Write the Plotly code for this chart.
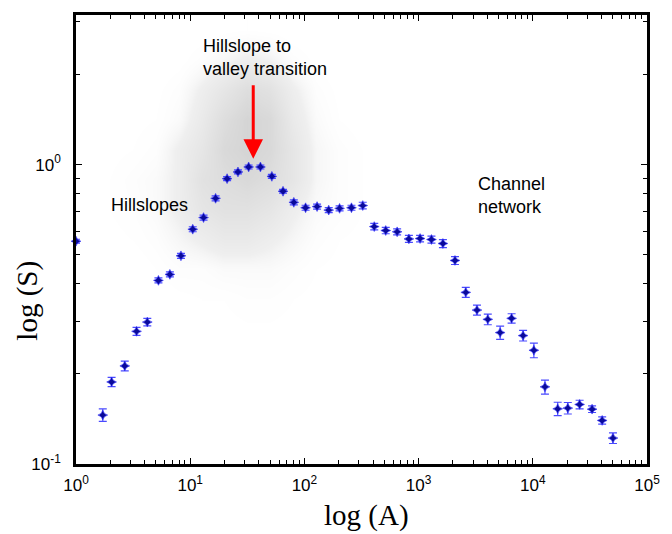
import plotly.graph_objects as go

# ---------------- data ----------------
area = [1.0, 1.716, 2.05, 2.673, 3.39, 4.21, 5.27, 6.64, 8.30, 10.53, 13.09, 16.69,
        21.04, 26.2, 32.5, 41.2, 51.9, 65.0, 80.8, 102.4, 129.1, 163.3, 203.3, 258.3,
        324.3, 409, 515.4, 648.6, 822.4, 1030, 1296, 1633, 2083, 2589, 3245, 4035,
        5176, 6524, 8222, 10220, 12780, 16520, 20260, 25700, 33040, 40500, 50350]
slope = [0.555, 0.1457, 0.188, 0.2127, 0.2775, 0.298, 0.4106, 0.430, 0.496, 0.6086,
         0.6657, 0.772, 0.898, 0.9455, 0.9825, 0.9825, 0.914, 0.815, 0.7486, 0.718,
         0.7244, 0.705, 0.7145, 0.718, 0.7303, 0.621, 0.6026, 0.5966, 0.565, 0.5666,
         0.5623, 0.5453, 0.4786, 0.3745, 0.3268, 0.3043, 0.2748, 0.3066, 0.2685,
         0.2399, 0.1810, 0.1529, 0.1537, 0.1581, 0.1525, 0.1398, 0.1221]
slope_err = [0.0085, 0.0070, 0.0068, 0.0079, 0.0085, 0.0085, 0.0079, 0.0083, 0.0095,
             0.0117, 0.0128, 0.0148, 0.0138, 0.0145, 0.0151, 0.0151, 0.0140, 0.0125,
             0.0144, 0.0138, 0.0139, 0.0135, 0.0137, 0.0138, 0.0185, 0.0157, 0.0148,
             0.0137, 0.0152, 0.0143, 0.0151, 0.0167, 0.0147, 0.0144, 0.0125, 0.0124,
             0.0141, 0.0111, 0.0109, 0.0135, 0.0097, 0.0079, 0.0068, 0.0052, 0.0039,
             0.0040, 0.0050]

# density of the grey point cloud (log10 A columns, log10 S rows)
cloud_logA = [0.1, 0.3, 0.5, 0.7, 0.9, 1.1, 1.3, 1.5, 1.7, 1.9, 2.1, 2.3, 2.5, 2.7, 2.9,
              3.1, 3.3, 3.5, 3.7, 3.9, 4.1, 4.3, 4.5, 4.7, 4.9]
cloud_logS = [-0.95, -0.85, -0.75, -0.65, -0.55, -0.45, -0.35, -0.25, -0.15, -0.05,
              0.05, 0.15, 0.25, 0.35, 0.45]
cloud_density = [
    [0, 0, 0, 0, 0, 0, 0, 0, 0, 0, 0, 0, 0, 0, 0, 0, 0, 0, 0, 0, 0, 0, 0, 0, 0],
    [0, 0, 0, 0, 0, 0, 0, 0, 0, 0, 0, 0, 0, 0, 0, 0, 0, 0, 0, 0, 0, 0, 0, 0, 0],
    [0, 0, 0, 0, 0, 0, 0.2, 0.2, 0.2, 0, 0, 0, 0, 0, 0, 0, 0, 0, 0, 0, 0, 0, 0, 0, 0],
    [0, 0, 0, 0, 0, 0.2, 0.3, 0.3, 0.3, 0.2, 0, 0, 0, 0, 0, 0, 0, 0, 0, 0, 0, 0, 0, 0, 0],
    [0, 0, 0, 0, 0.2, 0.3, 0.3, 0.4, 0.4, 0.3, 0.2, 0, 0, 0, 0, 0, 0, 0, 0, 0, 0, 0, 0, 0, 0],
    [0, 0, 0, 0, 0.3, 0.5, 0.5, 0.8, 0.8, 0.5, 0.3, 0.2, 0, 0, 0, 0, 0, 0, 0, 0, 0, 0, 0, 0, 0],
    [0, 0, 0, 0.5, 1, 1, 1.5, 1.5, 1.5, 1, 0.5, 0.3, 0.2, 0, 0, 0, 0, 0, 0, 0, 0, 0, 0, 0, 0],
    [0, 0.3, 0.5, 1, 2, 3, 4, 4, 3, 2, 1, 0.5, 0.3, 0.2, 0, 0, 0, 0, 0, 0, 0, 0, 0, 0, 0],
    [0.3, 0.5, 0.8, 1.5, 3, 5, 6, 6, 5, 3, 1.5, 1, 0.5, 0.3, 0.2, 0, 0, 0, 0, 0, 0, 0, 0, 0, 0],
    [0.3, 0.5, 1, 1.5, 3, 6, 7, 8, 7, 5, 2, 1, 0.5, 0.3, 0.2, 0, 0, 0, 0, 0, 0, 0, 0, 0, 0],
    [0, 0.3, 0.5, 1, 3, 5, 8, 9, 8, 5, 2, 1, 0.5, 0.3, 0, 0, 0, 0, 0, 0, 0, 0, 0, 0, 0],
    [0, 0, 0.3, 0.5, 1.5, 4, 7, 9, 8, 4, 1.5, 0.5, 0.2, 0, 0, 0, 0, 0, 0, 0, 0, 0, 0, 0, 0],
    [0, 0, 0, 0.3, 1, 3, 5, 7, 6, 3, 1, 0.3, 0, 0, 0, 0, 0, 0, 0, 0, 0, 0, 0, 0, 0],
    [0, 0, 0, 0, 0.2, 1, 2, 3, 2.5, 1, 0.3, 0, 0, 0, 0, 0, 0, 0, 0, 0, 0, 0, 0, 0, 0],
    [0, 0, 0, 0, 0, 0, 0.3, 0.5, 0.3, 0, 0, 0, 0, 0, 0, 0, 0, 0, 0, 0, 0, 0, 0, 0, 0],
]

x_tickvals = [1, 10, 100, 1000, 10000, 100000]
x_ticktext = ["10<sup>0</sup>", "10<sup>1</sup>", "10<sup>2</sup>", "10<sup>3</sup>",
              "10<sup>4</sup>", "10<sup>5</sup>"]
y_tickvals = [0.1, 1]
y_ticktext = ["10<sup>-1</sup>", "10<sup>0</sup>"]

SANS = "Liberation Sans, Arial, sans-serif"
SERIF = "Liberation Serif, Times New Roman, serif"

fig = go.Figure()

# grey cloud (linear log-space axes underneath)
fig.add_trace(go.Heatmap(
    x=cloud_logA, y=cloud_logS, z=cloud_density,
    zmin=0, zmax=9, zsmooth="best", showscale=False, hoverinfo="skip",
    colorscale=[[0, "rgba(255,255,255,0)"], [0.3, "rgba(140,140,140,0.14)"],
                [1, "rgba(130,130,130,0.34)"]],
    xaxis="x", yaxis="y",
))

fig.add_trace(go.Scatter(
    x=area, y=slope, mode="markers", xaxis="x2", yaxis="y2", cliponaxis=False,
    marker=dict(symbol="star-diamond", size=7, color="#0a0a9a",
                line=dict(width=0.6, color="#2a2aff")),
    error_y=dict(type="data", array=slope_err, color="#4a4aff", thickness=1.2, width=4),
    showlegend=False,
))

axis_common = dict(showline=True, linewidth=2.5, linecolor="black", mirror="ticks",
                   ticks="inside", ticklen=6, tickwidth=1, tickcolor="black",
                   showgrid=False, zeroline=False,
                   tickfont=dict(family=SANS, size=17, color="black"),
                   minor=dict(ticks="inside", ticklen=4, tickwidth=1, tickcolor="black",
                              dtick="D1", showgrid=False))

fig.update_layout(
    width=672, height=534,
    margin=dict(l=76, r=14, t=13, b=70),
    paper_bgcolor="white", plot_bgcolor="white",
    showlegend=False,
    xaxis=dict(range=[0, 5], visible=False, fixedrange=True),
    yaxis=dict(range=[-1, 0.5], visible=False, fixedrange=True),
    xaxis2=dict(type="log", range=[0, 5], overlaying="x", anchor="y2", side="bottom",
                tickvals=x_tickvals, ticktext=x_ticktext, ticklabelstandoff=4,
                **axis_common),
    yaxis2=dict(type="log", range=[-1, 0.5], overlaying="y", anchor="x2", side="left",
                tickvals=y_tickvals, ticktext=y_ticktext, ticklabelstandoff=9,
                **axis_common),
)

annotations = [
    dict(text="Hillslope to<br>valley transition", xref="paper", yref="paper",
         x=0.2182, y=0.9047, xanchor="left", yanchor="middle", align="left",
         showarrow=False, font=dict(family=SANS, size=18, color="black")),
    dict(text="Hillslopes", xref="paper", yref="paper", x=0.0584, y=0.5765,
         xanchor="left", yanchor="middle", showarrow=False,
         font=dict(family=SANS, size=18, color="black")),
    dict(text="Channel<br>network", xref="paper", yref="paper", x=0.701, y=0.5987,
         xanchor="left", yanchor="middle", align="left", showarrow=False,
         font=dict(family=SANS, size=18, color="black")),
    dict(text="log (A)", xref="paper", yref="paper", x=0.5086, y=-0.1153,
         xanchor="center", yanchor="middle", showarrow=False,
         font=dict(family=SERIF, size=29, color="black")),
    dict(text="log (S)", xref="paper", yref="paper", x=-0.0842, y=0.3636,
         xanchor="center", yanchor="middle", textangle=-90, showarrow=False,
         font=dict(family=SERIF, size=29, color="black")),
    dict(text="", xref="x2", yref="y2", x=1.552, y=0.02, axref="x2", ayref="y2",
         ax=1.552, ay=0.27, showarrow=True, arrowhead=2, arrowsize=1.3,
         arrowwidth=3, arrowcolor="#ff0000", standoff=0),
]
fig.update_layout(annotations=annotations)

fig.write_html("out.html")
